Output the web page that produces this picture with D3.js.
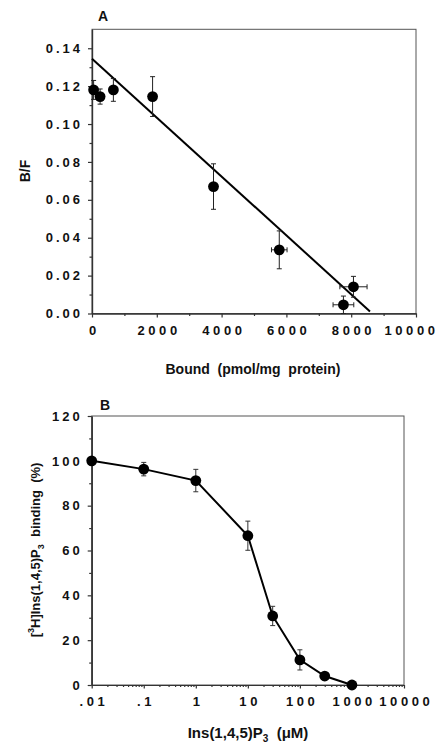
<!DOCTYPE html>
<html>
<head>
<meta charset="utf-8">
<script src="https://cdn.jsdelivr.net/npm/d3@7"></script>
<style>
  body { margin: 0; background: #fff; }
  text { font-family: "Liberation Sans", Arial, sans-serif; font-weight: bold; fill: #111; }
</style>
</head>
<body>
<div id="chart"></div>
<script>
// panel A: Scatchard plot
const boundX   = [50, 250, 660, 1870, 3750, 5780, 8070, 7760]
const bfY      = [0.118, 0.1145, 0.118, 0.1145, 0.067, 0.0336, 0.0141, 0.0046]
const bfErr    = [0.005, 0.004, 0.006, 0.0105, 0.012, 0.010, 0.0055, 0.0046]
const boundErr = [0, 0, 0, 0, 0, 240, 420, 320]
const fitX = [0, 8580]
const fitY = [0.1345, 0.0011]
const ticksA_x = [0, 2000, 4000, 6000, 8000, 10000]
const ticksA_y = [0, 0.02, 0.04, 0.06, 0.08, 0.10, 0.12, 0.14]

// panel B: displacement curve
const conc    = [0.01, 0.1, 1, 10, 30, 100, 300, 1000]
const binding = [100, 96.3, 91.2, 66.6, 30.8, 11.2, 4, 0]
const bindErr = [0, 3, 5, 6.5, 4.3, 4.5, 0, 0]
const ticksB_x = [0.01, 0.1, 1, 10, 100, 1000, 10000]
const labelsB_x = [".01", ".1", "1", "10", "100", "1000", "10000"]
const ticksB_y = [0, 20, 40, 60, 80, 100, 120]

const w = 443
const h = 744
const lsY = 3     // letter spacing of y tick labels
const lsX = 3.6   // letter spacing of x tick labels

const svg = d3.select("#chart").append("svg")
  .attr("width", w)
  .attr("height", h)

function styleAxis(g){
  g.selectAll("path.domain").attr("stroke", "#333").attr("stroke-width", 1.2)
  g.selectAll(".tick line").attr("stroke", "#333").attr("stroke-width", 1.2)
  g.selectAll("text")
    .attr("font-size", 13)
    .attr("letter-spacing", lsY + "px")
    .attr("fill", "#111")
}

function xLabels(g){
  g.selectAll("text").attr("letter-spacing", lsX + "px").attr("dx", lsX / 2)
}

function errBars(g, pts, cap){
  pts.forEach(function(p){
    if(p.v){
      g.append("line").attr("x1", p.x).attr("x2", p.x).attr("y1", p.a).attr("y2", p.b)
      g.append("line").attr("x1", p.x - cap).attr("x2", p.x + cap).attr("y1", p.a).attr("y2", p.a)
      g.append("line").attr("x1", p.x - cap).attr("x2", p.x + cap).attr("y1", p.b).attr("y2", p.b)
    } else {
      g.append("line").attr("y1", p.y).attr("y2", p.y).attr("x1", p.a).attr("x2", p.b)
      g.append("line").attr("y1", p.y - cap).attr("y2", p.y + cap).attr("x1", p.a).attr("x2", p.a)
      g.append("line").attr("y1", p.y - cap).attr("y2", p.y + cap).attr("x1", p.b).attr("x2", p.b)
    }
  })
}

// ---------- panel A ----------
const xA = d3.scaleLinear().domain([0, 10000]).range([92, 416])
const yA = d3.scaleLinear().domain([0, 0.15]).range([313.5, 29.3])

// frame
svg.append("rect")
  .attr("x", xA(0)).attr("y", yA(0.15))
  .attr("width", xA(10000) - xA(0)).attr("height", yA(0) - yA(0.15))
  .attr("fill", "none").attr("stroke", "#555").attr("stroke-width", 1)

// minor ticks
svg.append("g").attr("transform", "translate(0," + yA(0) + ")")
  .call(d3.axisBottom(xA).tickValues(d3.range(1000, 10000, 2000)).tickSize(2.5).tickFormat("").tickSizeOuter(0))
  .call(styleAxis)
svg.append("g").attr("transform", "translate(" + xA(0) + ",0)")
  .call(d3.axisLeft(yA).tickValues(d3.range(0.01, 0.15, 0.02)).tickSize(2.5).tickFormat("").tickSizeOuter(0))
  .call(styleAxis)

const axA_x = svg.append("g").attr("transform", "translate(0," + yA(0) + ")")
  .call(d3.axisBottom(xA).tickValues(ticksA_x).tickSize(4).tickPadding(8).tickSizeOuter(0).tickFormat(d3.format("d")))
  .call(styleAxis)
  .call(xLabels)
// last label sits a little left of its tick, as in the original
axA_x.selectAll("text").filter(function(d){ return d === 10000 }).attr("dx", -5)

svg.append("g").attr("transform", "translate(" + xA(0) + ",0)")
  .call(d3.axisLeft(yA).tickValues(ticksA_y).tickSize(4).tickPadding(5).tickSizeOuter(0).tickFormat(d3.format(".2f")))
  .call(styleAxis)

// regression line
svg.append("line")
  .attr("x1", xA(fitX[0])).attr("y1", yA(fitY[0]))
  .attr("x2", xA(fitX[1])).attr("y2", yA(fitY[1]))
  .attr("stroke", "#000").attr("stroke-width", 2)

const ebA = svg.append("g").attr("stroke", "#222").attr("stroke-width", 1)
const vA = boundX.map(function(d, i){
  return {v: true, x: xA(d), a: yA(Math.min(bfY[i] + bfErr[i], 0.15)), b: yA(Math.max(bfY[i] - bfErr[i], 0))}
})
const hA = boundX.map(function(d, i){
  return {v: false, y: yA(bfY[i]), a: xA(d - boundErr[i]), b: xA(d + boundErr[i])}
}).filter(function(p, i){ return boundErr[i] > 0 })
errBars(ebA, vA, 2.5)
errBars(ebA, hA, 2.5)

svg.append("g").selectAll("circle")
  .data(boundX)
  .enter()
  .append("circle")
  .attr("cx", function(d){ return xA(d) })
  .attr("cy", function(d, i){ return yA(bfY[i]) })
  .attr("r", 5.4)
  .attr("fill", "#000")

svg.append("text").attr("x", 103).attr("y", 21).attr("text-anchor", "middle")
  .attr("font-size", 14).text("A")

svg.append("text").attr("transform", "translate(30,171) rotate(-90)")
  .attr("text-anchor", "middle").attr("font-size", 14).text("B/F")

svg.append("text").attr("x", 253).attr("y", 374).attr("text-anchor", "middle")
  .attr("font-size", 14).style("white-space", "pre")
  .text("Bound  (pmol/mg  protein)")

// ---------- panel B ----------
const xB = d3.scaleLog().domain([0.01, 10000]).range([91.7, 404])
const yB = d3.scaleLinear().domain([0, 120]).range([685, 416])

svg.append("rect")
  .attr("x", xB(0.01)).attr("y", yB(120))
  .attr("width", xB(10000) - xB(0.01)).attr("height", yB(0) - yB(120))
  .attr("fill", "none").attr("stroke", "#555").attr("stroke-width", 1)

// minor log ticks
const minorB = []
ticksB_x.slice(0, -1).forEach(function(t){
  for(let k = 2; k <= 9; k++) minorB.push(t * k)
})
svg.append("g").attr("transform", "translate(0," + yB(0) + ")")
  .call(d3.axisBottom(xB).tickValues(minorB).tickSize(2).tickFormat("").tickSizeOuter(0))
  .call(styleAxis)
svg.append("g").attr("transform", "translate(" + xB(0.01) + ",0)")
  .call(d3.axisLeft(yB).tickValues(d3.range(10, 120, 20)).tickSize(2.5).tickFormat("").tickSizeOuter(0))
  .call(styleAxis)

svg.append("g").attr("transform", "translate(0," + yB(0) + ")")
  .call(d3.axisBottom(xB).tickValues(ticksB_x).tickSize(3.5).tickPadding(8.5).tickSizeOuter(0)
    .tickFormat(function(d, i){ return labelsB_x[i] }))
  .call(styleAxis)
  .call(xLabels)

svg.append("g").attr("transform", "translate(" + xB(0.01) + ",0)")
  .call(d3.axisLeft(yB).tickValues(ticksB_y).tickSize(4).tickPadding(5).tickSizeOuter(0))
  .call(styleAxis)

svg.append("path")
  .datum(conc)
  .attr("d", d3.line().x(function(d){ return xB(d) }).y(function(d, i){ return yB(binding[i]) }))
  .attr("fill", "none").attr("stroke", "#000").attr("stroke-width", 2)

const ebB = svg.append("g").attr("stroke", "#333").attr("stroke-width", 1)
errBars(ebB, conc.map(function(d, i){
  return {v: true, x: xB(d), a: yB(binding[i] + bindErr[i]), b: yB(binding[i] - bindErr[i])}
}).filter(function(p, i){ return bindErr[i] > 0 }), 2.5)

svg.append("g").selectAll("circle")
  .data(conc)
  .enter()
  .append("circle")
  .attr("cx", function(d){ return xB(d) })
  .attr("cy", function(d, i){ return yB(binding[i]) })
  .attr("r", 5.4)
  .attr("fill", "#000")

svg.append("text").attr("x", 105).attr("y", 410).attr("text-anchor", "middle")
  .attr("font-size", 14).text("B")

const yl = svg.append("text").attr("transform", "translate(40,550) rotate(-90)")
  .attr("text-anchor", "middle").attr("font-size", 13).style("white-space", "pre")
yl.append("tspan").text("[")
yl.append("tspan").attr("font-size", 9).attr("dy", -6).text("3")
yl.append("tspan").attr("dy", 6).text("H]Ins(1,4,5)P")
yl.append("tspan").attr("font-size", 9).attr("dy", 4).text("3")
yl.append("tspan").attr("dy", -4).text("  binding  (%)")

const xl = svg.append("text").attr("x", 248).attr("y", 738).attr("text-anchor", "middle")
  .attr("font-size", 15).style("white-space", "pre")
xl.append("tspan").text("Ins(1,4,5)P")
xl.append("tspan").attr("font-size", 10).attr("dy", 4).text("3")
xl.append("tspan").attr("dy", -4).text("  (\u03bcM)")
</script>
</body>
</html>
